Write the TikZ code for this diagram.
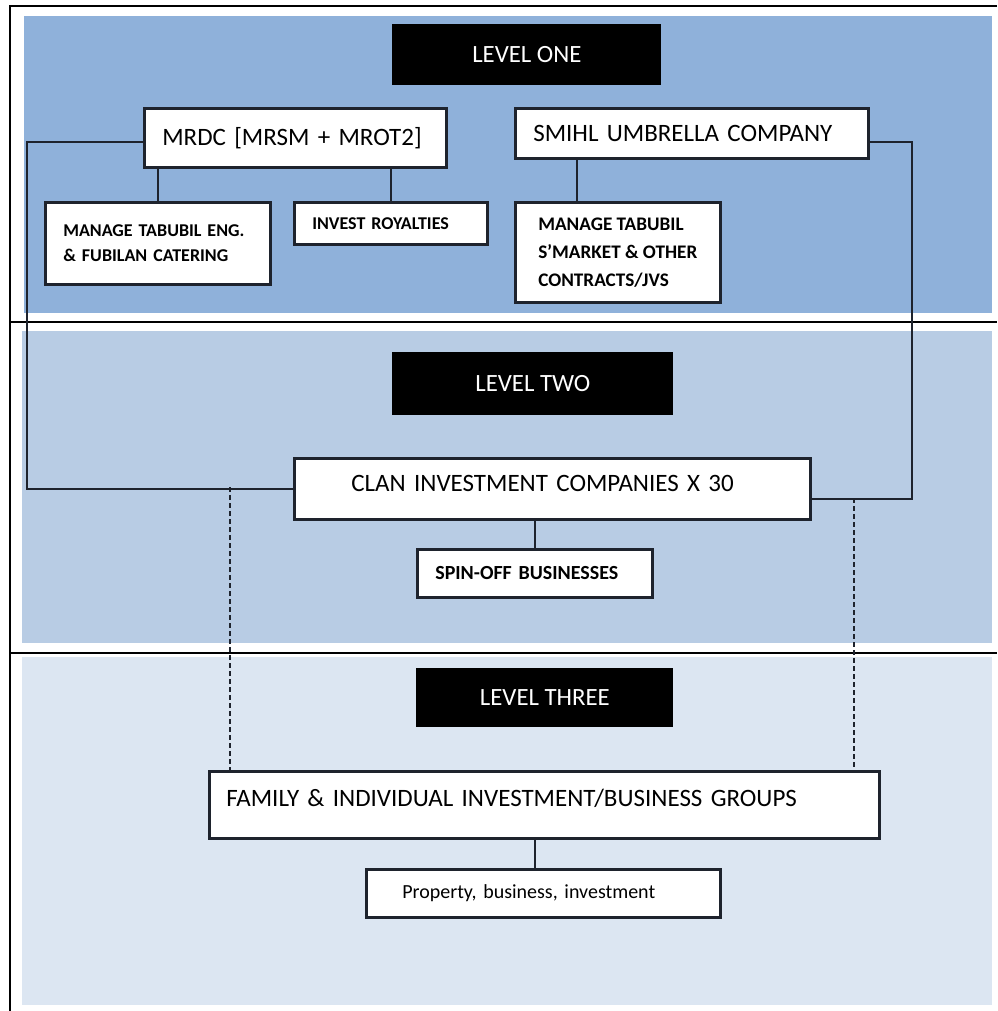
\documentclass[tikz,border=0pt]{standalone}
\usepackage{fontspec}
\setmainfont{Carlito}
\usepackage{tikz}
\usetikzlibrary{calc}
\definecolor{bandone}{RGB}{143,177,218}
\definecolor{bandtwo}{RGB}{184,204,228}
\definecolor{bandthree}{RGB}{220,230,242}
\definecolor{edge}{RGB}{30,35,45}

\begin{document}
\begin{tikzpicture}[x=0.5pt,y=-0.5pt,
    box/.style={draw=edge,line width=1.3pt,fill=white,anchor=north west,inner ysep=0pt,align=left},
    lvl/.style={fill=black,text=white,anchor=north west,inner sep=0pt,font=\fontsize{12.4}{15}\selectfont},
    big/.style={font=\fontsize{12.5}{15}\selectfont},
    small/.style={font=\fontsize{9}{12.5}\selectfont\bfseries},
    mid/.style={font=\fontsize{10}{14}\selectfont\bfseries},
    link/.style={draw=edge,line width=1pt},
    hint/.style={draw=edge,line width=1.1pt,dash pattern=on 2.5pt off 1.5pt}]
    \useasboundingbox (0,0) rectangle (997,1011);
    \fill[bandone] (24,16) rectangle (992,313);
    \fill[bandtwo] (22,331) rectangle (992,643);
    \fill[bandthree] (22,657) rectangle (992,1005);
    \draw[line width=1pt] (997,6) -- (10,6) -- (10,1011);
    \draw[line width=1pt] (10,322) -- +(987,0) (10,653) -- +(987,0);
        \node[lvl,minimum width=134.5pt,minimum height=30.5pt] (one) at (392,24) {LEVEL ONE};
        \node[lvl,minimum width=140.5pt,minimum height=31.5pt] (two) at (392,352) {LEVEL TWO};
        \node[lvl,minimum width=128.5pt,minimum height=29.5pt] (three) at (416,668) {LEVEL THREE};
        \node[box,big,inner xsep=9pt,text width=133pt,minimum height=29.5pt] (mrdc) at (143,107) {MRDC [MRSM + MROT2]};
        \node[box,big,inner xsep=9pt,text width=158.5pt,minimum height=25pt] (smihl) at (514,107) {SMIHL UMBRELLA COMPANY};
        \node[box,small,inner xsep=9pt,text width=94.5pt,minimum height=41pt] (eng) at (44,201) {MANAGE TABUBIL ENG.\\\& FUBILAN CATERING};
        \node[box,small,inner xsep=9pt,text width=78.5pt,minimum height=21pt] (royal) at (293,201) {INVEST ROYALTIES};
        \node[box,font=\fontsize{9.6}{14}\selectfont\bfseries,inner xsep=0pt,minimum width=102.5pt,minimum height=50pt] (market) at (514,201) {MANAGE TABUBIL\\S'MARKET \& OTHER\\CONTRACTS/JVS};
        \node[box,big,inner xsep=28.5pt,text width=201pt,minimum height=30.5pt,text depth=5pt] (clan) at (293,457) {CLAN INVESTMENT COMPANIES X 30};
        \node[box,mid,inner xsep=9pt,text width=99.5pt,minimum height=24pt] (spin) at (416,548) {SPIN-OFF BUSINESSES};
        \node[box,big,inner xsep=8.5pt,text width=318pt,minimum height=33.5pt,text depth=6.5pt] (family) at (208,770) {FAMILY \& INDIVIDUAL INVESTMENT/BUSINESS GROUPS};
        \node[box,font=\fontsize{10}{12}\selectfont,inner xsep=18pt,text width=141pt,minimum height=24pt] (prop) at (365,868) {Property, business, investment};
        \draw[link] ([yshift=-2.25pt]mrdc.west) -- ++(-116,0) |- (clan.west);
        \draw[link] ([yshift=-4.5pt]smihl.east) -- ++(42,0) |- ([yshift=-5.25pt]clan.east);
        \draw[link] (mrdc.south -| eng.north) -- (eng.north);
        \draw[link] (mrdc.south -| royal.north) -- (royal.north);
        \draw[link] ([xshift=31.5pt]smihl.south west) -- ([xshift=31.5pt]market.north west);
        \draw[link] (clan.south -| spin.north) -- (spin.north);
        \draw[link] (family.south -| spin.north) -- (prop.north -| spin.north);
        \coordinate (dl) at (230,487);
        \coordinate (dr) at (854,498);
        \draw[hint] (dl) -- (dl |- family.north);
        \draw[hint] (dr) -- (dr |- family.north);
\end{tikzpicture}
\end{document}
